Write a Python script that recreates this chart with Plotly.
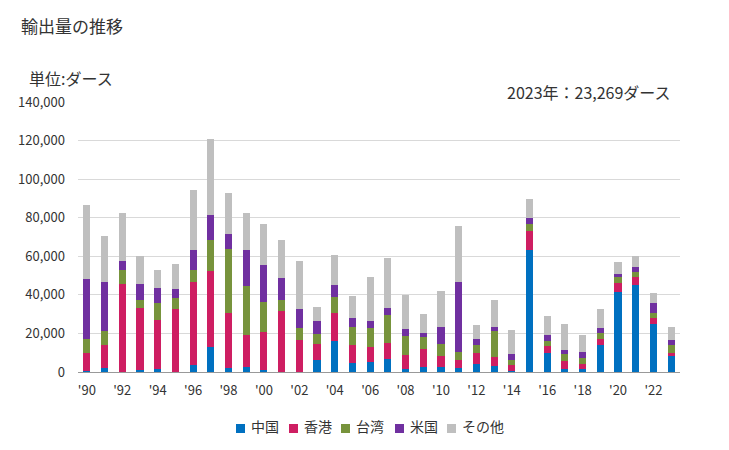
import plotly.graph_objects as go

years = list(range(1990, 2024))
tick_years = list(range(1990, 2024, 2))
tick_labels = ["'" + str(y)[2:] for y in tick_years]

china = [700, 2100, 200, 1000, 1700, 200, 3600, 13000, 2100, 2600,
         1000, 200, 200, 6200, 16100, 4700, 5200, 6800, 1600, 2600,
         2800, 2100, 4200, 3100, 500, 63200, 10100, 1600, 1600, 14200,
         41600, 45300, 25000, 8300]
hongkong = [9400, 12000, 45300, 32300, 25300, 32600, 43200, 39600, 28600, 16700,
            19800, 31500, 16400, 8300, 14600, 9400, 7800, 8300, 7300, 9400,
            5500, 4200, 5900, 4700, 3100, 9700, 3500, 4200, 2600, 3100,
            4700, 4200, 3100, 1700]
taiwan = [7100, 7300, 7600, 4200, 9000, 5700, 6200, 15600, 33300, 25500,
          15600, 5700, 6200, 5200, 8300, 9400, 9900, 14600, 9900, 6200,
          6200, 4200, 4000, 13500, 2600, 3600, 2600, 3600, 3100, 3000,
          3100, 2100, 2600, 4000]
usa = [31200, 25500, 4700, 8300, 7600, 4700, 10400, 13000, 7300, 18700,
       19300, 11500, 9900, 6800, 6200, 4700, 3600, 3600, 3600, 2100,
       8900, 36400, 3100, 2100, 3100, 3100, 3100, 2100, 3100, 2600,
       1600, 2600, 5200, 2600]
others = [38000, 23400, 24500, 14600, 9400, 13000, 31200, 39600, 21300, 18700,
          21300, 19300, 25000, 7300, 15600, 11400, 22900, 26000, 17700, 9900,
          18700, 28600, 7300, 14100, 12500, 9900, 9900, 13500, 8900, 9900,
          6200, 6200, 5200, 6669]

series_names = ["中国", "香港", "台湾", "米国", "その他"]
series_values = [china, hongkong, taiwan, usa, others]
series_colors = ["rgb(0,112,192)", "rgb(206,30,98)", "rgb(119,147,60)",
                 "rgb(112,48,160)", "rgb(191,191,191)"]

font_family = "Noto Sans CJK JP, Noto Sans, sans-serif"
text_color = "#333333"

ML, MR, MT, MB = 78, 49, 102, 78
W, H = 729, 450
plot_w = W - ML - MR
plot_h = H - MT - MB


def px_x(px):
    return (px - ML) / plot_w


def px_y(py):
    return (H - MB - py) / plot_h


fig = go.Figure()
for name, vals, color in zip(series_names, series_values, series_colors):
    fig.add_trace(go.Bar(x=years, y=vals, name=name,
                         marker=dict(color=color, line=dict(width=0))))

anns = []
specs = [
    ("輸出量の推移", 19, 25, "left", 17),
    ("単位:ダース", 27, 78, "left", 16),
    ("2023年：23,269ダース", 673, 92, "right", 16),
]
for text, px, py, anchor, size in specs:
    anns.append(dict(text=text, x=px_x(px), y=px_y(py),
                     xref="paper", yref="paper", xanchor=anchor, yanchor="middle",
                     showarrow=False, font=dict(size=size, color=text_color, family=font_family)))

# custom legend (squares + labels)
legend_sq_x = [236, 289, 341, 395, 447]
shapes = []
for name, color, sx in zip(series_names, series_colors, legend_sq_x):
    shapes.append(dict(type="rect", xref="paper", yref="paper",
                       x0=px_x(sx), x1=px_x(sx + 9), y0=px_y(433), y1=px_y(424),
                       fillcolor=color, line=dict(width=0)))
    anns.append(dict(text=name, x=px_x(sx + 13), y=px_y(426),
                     xref="paper", yref="paper", xanchor="left", yanchor="middle",
                     showarrow=False, font=dict(size=14, color=text_color, family=font_family)))

fig.update_layout(
    barmode="stack",
    bargap=0.6,
    width=W, height=H,
    paper_bgcolor="white", plot_bgcolor="white",
    margin=dict(l=ML, r=MR, t=MT, b=MB),
    font=dict(family=font_family, size=13, color=text_color),
    showlegend=False,
    xaxis=dict(tickmode="array", tickvals=tick_years, ticktext=tick_labels,
               range=[1989.5, 2023.5], showgrid=False, showline=True,
               linecolor="#999999", linewidth=1, ticks="", ticklabelstandoff=6,
               tickfont=dict(size=13, color=text_color)),
    yaxis=dict(range=[0, 140000], tickvals=list(range(0, 140001, 20000)),
               tickformat=",d", showgrid=True, gridcolor="#d9d9d9", gridwidth=1,
               zeroline=False, ticks="", ticklabelstandoff=12,
               tickfont=dict(size=13, color=text_color)),
    annotations=anns,
    shapes=shapes,
)

fig.write_html("out.html", config={"displayModeBar": False},
               post_script="document.body.style.margin='0';document.body.style.overflow='hidden';")
